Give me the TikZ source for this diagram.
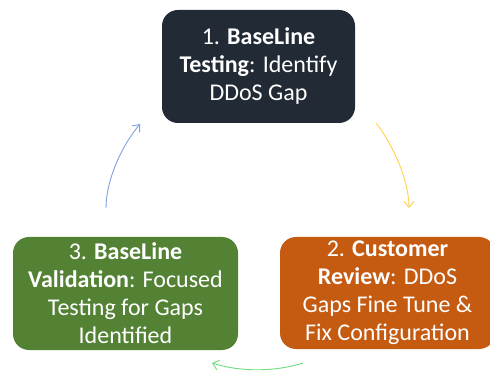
\documentclass[tikz,border=0pt]{standalone}
\usepackage{fontspec}
\setmainfont{Carlito}
\usetikzlibrary{arrows.meta}
\definecolor{navy}{HTML}{222A35}
\definecolor{leaf}{HTML}{548235}
\definecolor{rust}{HTML}{C55A11}
\definecolor{ayellow}{HTML}{FFD24D}
\definecolor{ablue}{HTML}{7FA2E0}
\definecolor{agreen}{HTML}{6FDD7A}
\begin{document}
\begin{tikzpicture}[x=1pt,y=-1pt,
  stepbox/.style={draw=none,rounded corners=16pt,text=white,align=center,
    font=\fontsize{24}{28}\selectfont,inner sep=0pt},
  cyc/.style={line width=0.9pt,-{Straight Barb[length=6pt,width=10pt]}}]
\useasboundingbox (0,0) rectangle (490,371);
\node[stepbox,fill=navy,minimum width=193pt,minimum height=113pt] (s1) at (258.5,66.5)
  {1. \textbf{BaseLine}\\ \textbf{Testing}: Identify\\ DDoS Gap};
\node[stepbox,fill=rust,minimum width=215pt,minimum height=112pt] (s2) at (387.5,293)
  {2. \textbf{Customer}\\ \textbf{Review}: DDoS\\ Gaps Fine Tune \&\\ Fix Configuration};
\node[stepbox,fill=leaf,minimum width=225pt,minimum height=113pt] (s3) at (125.5,293.5)
  {3. \textbf{BaseLine}\\ \textbf{Validation}: Focused\\ Testing for Gaps\\ Identified};
\coordinate (y1) at (376,123);
\coordinate (y2) at (409,208);
\coordinate (g1) at (303,363);
\coordinate (g2) at (212,363);
\coordinate (b1) at (106,208);
\coordinate (b2) at (140,124);
\draw[cyc,ayellow] (y1) .. controls (392,143) and (409,180) .. (y2);
\draw[cyc,agreen] (g1) .. controls (275,372) and (240,372) .. (g2);
\draw[cyc,ablue] (b1) .. controls (106,182) and (120,148) .. (b2);
\end{tikzpicture}
\end{document}
